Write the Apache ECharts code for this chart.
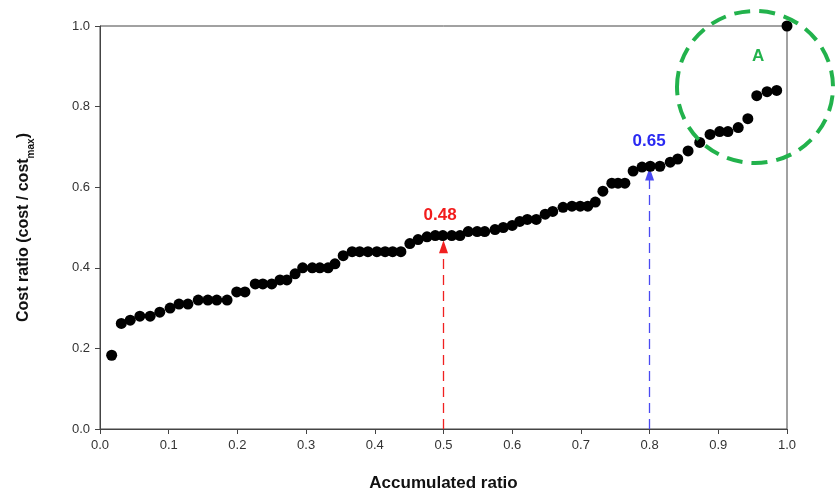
<!DOCTYPE html>
<html>
<head>
<meta charset="utf-8">
<script src="https://cdn.jsdelivr.net/npm/echarts@6/dist/echarts.min.js"></script>
<style>
html,body{margin:0;padding:0;background:#fff;}
#chart{width:837px;height:497px;}
</style>
</head>
<body>
<div id="chart"></div>
<script>
// Accumulated ratio (x) and cost ratio (y)
var accumulatedRatio = [0.017,0.031,0.044,0.058,0.073,0.087,0.102,0.115,0.128,0.143,0.157,0.170,0.185,0.199,
  0.211,0.226,0.237,0.250,0.262,0.272,0.284,0.295,0.309,0.320,0.332,0.342,0.354,0.367,0.378,0.390,
  0.403,0.415,0.426,0.438,0.451,0.463,0.476,0.488,0.499,0.512,0.524,0.536,0.549,0.560,0.575,0.587,
  0.600,0.611,0.622,0.635,0.648,0.659,0.674,0.687,0.699,0.710,0.721,0.732,0.745,0.754,0.764,0.776,
  0.789,0.801,0.815,0.830,0.841,0.856,0.873,0.888,0.902,0.914,0.929,0.943,0.956,0.971,0.985,1.0];
var costRatio = [0.183,0.262,0.27,0.28,0.28,0.29,0.30,0.31,0.31,0.32,0.32,0.32,0.32,0.34,
  0.34,0.36,0.36,0.36,0.37,0.37,0.385,0.40,0.40,0.40,0.40,0.41,0.43,0.44,0.44,0.44,
  0.44,0.44,0.44,0.44,0.46,0.47,0.477,0.48,0.48,0.48,0.48,0.49,0.49,0.49,0.495,0.50,
  0.505,0.515,0.52,0.52,0.533,0.54,0.55,0.553,0.553,0.553,0.563,0.59,0.61,0.61,0.61,0.64,
  0.65,0.652,0.652,0.662,0.67,0.69,0.711,0.731,0.738,0.738,0.748,0.77,0.827,0.837,0.84,1.0];
var xTicks = ['0.0','0.1','0.2','0.3','0.4','0.5','0.6','0.7','0.8','0.9','1.0'];
var yTicks = ['0.0','0.2','0.4','0.6','0.8','1.0'];
var markerRed = {x: 0.5, top: 0.452, label: '0.48'};
var markerBlue = {x: 0.8, top: 0.633, label: '0.65'};

var pts = accumulatedRatio.map(function(x, i){ return [x, costRatio[i]]; });
var chart = echarts.init(document.getElementById('chart'), null, {renderer: 'canvas'});
var font = '"Liberation Sans", Arial, sans-serif';
var option = {
  backgroundColor: '#fff',
  animation: false,
  grid: {left: 100, right: 50, top: 26, bottom: 65, show: true, borderColor: '#444', borderWidth: 1},
  xAxis: {
    type: 'value', min: 0, max: 1, interval: 0.1,
    axisLine: {show: true, lineStyle: {color: '#444', width: 1}},
    axisTick: {show: true, inside: false, length: 5, lineStyle: {color: '#444'}},
    splitLine: {show: false},
    axisLabel: {margin: 10, fontFamily: font, fontSize: 13, color: '#333',
      formatter: function(v){ return xTicks[Math.round(v*10)]; }},
    name: 'Accumulated ratio', nameLocation: 'middle', nameGap: 46,
    nameTextStyle: {fontFamily: font, fontSize: 17, fontWeight: 'bold', color: '#111'}
  },
  yAxis: {
    type: 'value', min: 0, max: 1, interval: 0.2,
    axisLine: {show: true, lineStyle: {color: '#444', width: 1}},
    axisTick: {show: true, inside: false, length: 5, lineStyle: {color: '#444'}},
    splitLine: {show: false},
    axisLabel: {margin: 10, fontFamily: font, fontSize: 13, color: '#333',
      formatter: function(v){ return yTicks[Math.round(v*5)]; }},
    name: '{a|Cost ratio (cost / cost}{s|max}{a|)}', nameLocation: 'middle', nameGap: 64, nameRotate: 90,
    nameTextStyle: {
      rich: {
        a: {fontFamily: font, fontSize: 16, fontWeight: 'bold', color: '#111', lineHeight: 24, verticalAlign: 'middle'},
        s: {fontFamily: font, fontSize: 10, fontWeight: 'bold', color: '#111', lineHeight: 24, verticalAlign: 'bottom'}
      }
    }
  },
  series: [{
    type: 'scatter',
    data: pts,
    symbol: 'circle',
    symbolSize: 11,
    itemStyle: {color: '#000', opacity: 1},
    z: 5,
    markLine: {
      silent: true,
      symbol: ['none', 'triangle'],
      symbolSize: [9, 13],
      label: {show: false},
      data: [
        [{coord: [markerRed.x, 0], lineStyle: {color: '#f02020', type: [10, 6], width: 1.3, opacity: 1}, itemStyle: {color: '#ee2222'}},
         {coord: [markerRed.x, markerRed.top]}],
        [{coord: [markerBlue.x, 0], lineStyle: {color: '#4a4af2', type: [10, 6], width: 1.3, opacity: 1}, itemStyle: {color: '#3b3bf0'}},
         {coord: [markerBlue.x, markerBlue.top]}]
      ]
    }
  }]
};
chart.setOption(option);

var pRed = chart.convertToPixel({gridIndex: 0}, [markerRed.x, markerRed.top]);
var pBlue = chart.convertToPixel({gridIndex: 0}, [markerBlue.x, markerBlue.top]);
chart.setOption({
  graphic: [
    {type: 'text', left: pRed[0] - 20, top: pRed[1] - 40, style: {text: markerRed.label, fill: '#f21c1c', font: 'bold 17px ' + font}},
    {type: 'text', left: pBlue[0] - 17, top: pBlue[1] - 41, style: {text: markerBlue.label, fill: '#2a2af2', font: 'bold 17px ' + font}},
    {type: 'ellipse', shape: {cx: 755, cy: 87, rx: 78, ry: 76}, style: {fill: 'none', stroke: '#22b24c', lineWidth: 4, lineDash: [16, 9]}, z: 10},
    {type: 'text', left: 752, top: 48, style: {text: 'A', fill: '#22b24c', font: 'bold 17px ' + font}, z: 10}
  ]
});
</script>
</body>
</html>
